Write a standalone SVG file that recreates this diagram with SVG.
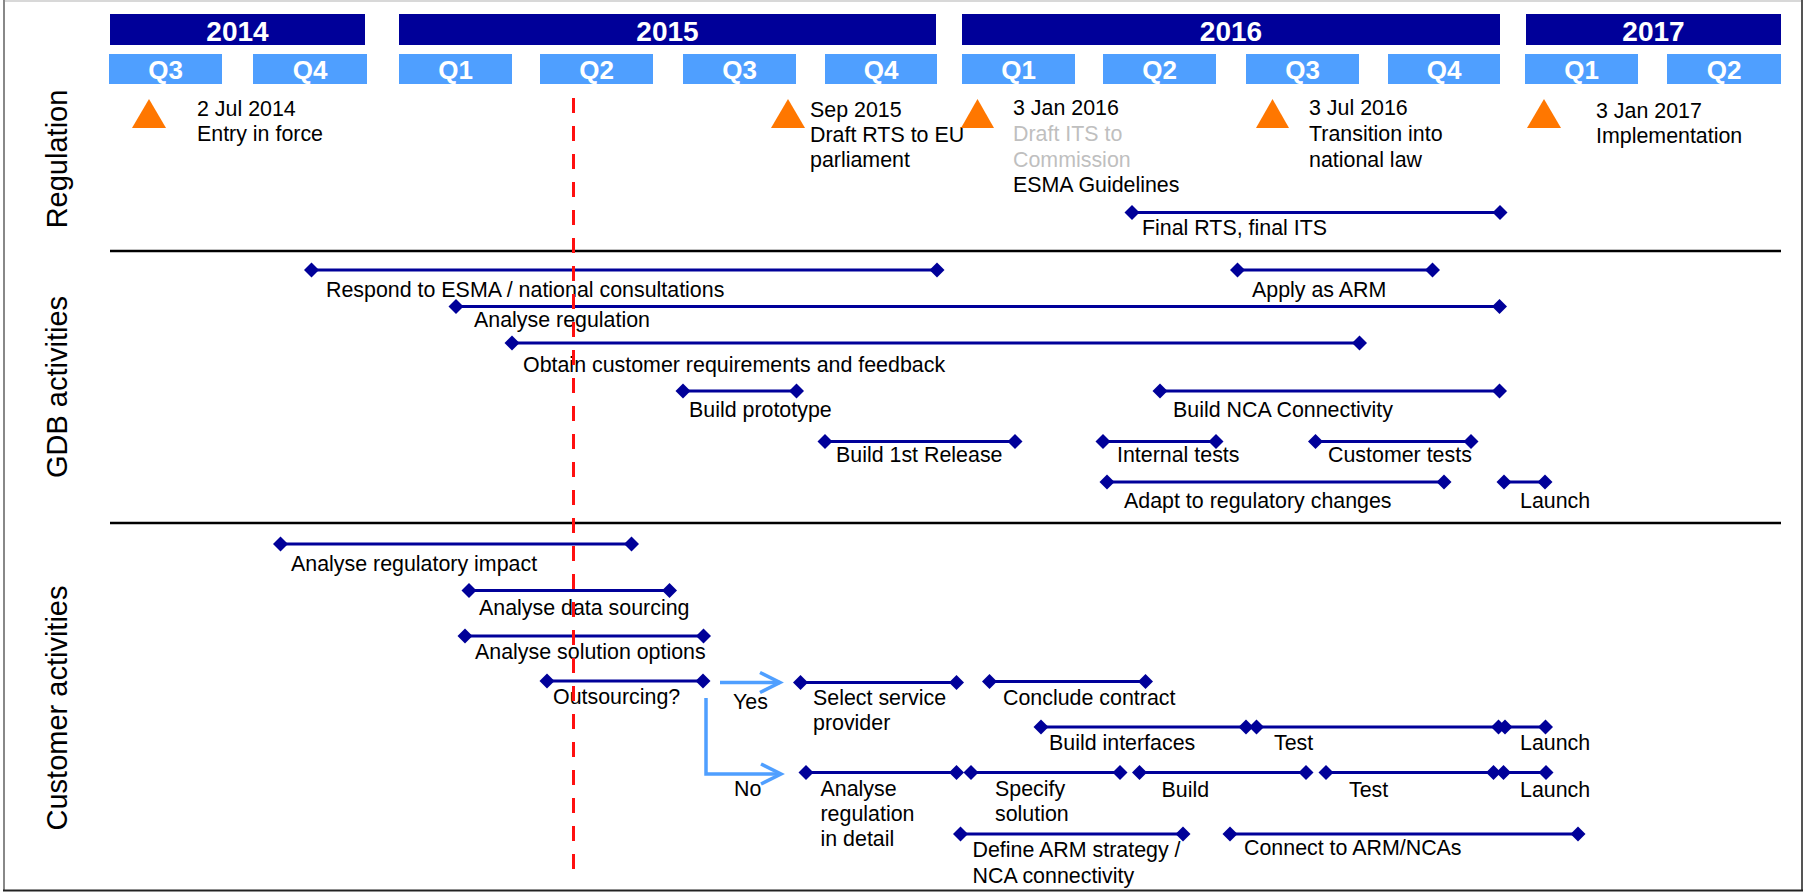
<svg xmlns="http://www.w3.org/2000/svg" width="1804" height="892" viewBox="0 0 1804 892">
<style>
  text { font-family: "Liberation Sans", Arial, sans-serif; }
  .yr { fill: #000099; }
  .q { fill: #4F9FFF; }
  .yt { font-size: 28px; font-weight: bold; fill: #fff; text-anchor: middle; }
  .qt { font-size: 26px; font-weight: bold; fill: #fff; text-anchor: middle; }
  .lbl { font-size: 21.4px; fill: #000; }
  .gray { fill: #BFBFBF; }
  .side { font-size: 29px; fill: #000; text-anchor: middle; }
  .tri { fill: #FF7700; }
  .bar { stroke: #000099; stroke-width: 3; marker-start: url(#dia); marker-end: url(#dia); }
  .sep { stroke: #000; stroke-width: 2.5; }
  .arr { stroke: #4F9FFF; stroke-width: 3.5; fill: none; marker-end: url(#chev); }
</style>
<defs>
  <marker id="dia" viewBox="-8 -8 16 16" markerWidth="16" markerHeight="16" refX="0" refY="0" markerUnits="userSpaceOnUse" orient="0">
    <path d="M0,-7.5 L7.5,0 L0,7.5 L-7.5,0 Z" fill="#000099"/>
  </marker>
  <marker id="chev" viewBox="-24 -14 28 28" markerWidth="28" markerHeight="28" refX="0" refY="0" markerUnits="userSpaceOnUse" orient="auto">
    <path d="M-20,-10 L0,0 L-20,10" fill="none" stroke="#4F9FFF" stroke-width="3.5"/>
  </marker>
</defs>
<rect x="0" y="0" width="1804" height="892" fill="#fff"/>
<g id="frame">
  <line x1="3" y1="1" x2="1802" y2="1" stroke="#d8d8d8" stroke-width="2"/>
  <line x1="4" y1="0" x2="4" y2="891" stroke="#888" stroke-width="2"/>
  <line x1="1802" y1="0" x2="1802" y2="891" stroke="#555" stroke-width="2"/>
  <line x1="3" y1="890.5" x2="1803" y2="890.5" stroke="#222" stroke-width="2"/>
</g>
<g id="timeline">
  <rect class="yr" x="110" y="14" width="255" height="31"/>
  <text class="yt" x="237.5" y="41">2014</text>
  <rect class="yr" x="399" y="14" width="537" height="31"/>
  <text class="yt" x="667.5" y="41">2015</text>
  <rect class="yr" x="962" y="14" width="538" height="31"/>
  <text class="yt" x="1231" y="41">2016</text>
  <rect class="yr" x="1526" y="14" width="255" height="31"/>
  <text class="yt" x="1653.5" y="41">2017</text>
  <rect class="q" x="109" y="54" width="113" height="30"/><text class="qt" x="165.5" y="79">Q3</text>
  <rect class="q" x="253" y="54" width="114" height="30"/><text class="qt" x="310" y="79">Q4</text>
  <rect class="q" x="399" y="54" width="113" height="30"/><text class="qt" x="455.5" y="79">Q1</text>
  <rect class="q" x="540" y="54" width="113" height="30"/><text class="qt" x="596.5" y="79">Q2</text>
  <rect class="q" x="683" y="54" width="113" height="30"/><text class="qt" x="739.5" y="79">Q3</text>
  <rect class="q" x="825" y="54" width="112" height="30"/><text class="qt" x="881" y="79">Q4</text>
  <rect class="q" x="962" y="54" width="113" height="30"/><text class="qt" x="1018.5" y="79">Q1</text>
  <rect class="q" x="1103" y="54" width="113" height="30"/><text class="qt" x="1159.5" y="79">Q2</text>
  <rect class="q" x="1246" y="54" width="113" height="30"/><text class="qt" x="1302.5" y="79">Q3</text>
  <rect class="q" x="1388" y="54" width="112" height="30"/><text class="qt" x="1444" y="79">Q4</text>
  <rect class="q" x="1525" y="54" width="113" height="30"/><text class="qt" x="1581.5" y="79">Q1</text>
  <rect class="q" x="1667" y="54" width="114" height="30"/><text class="qt" x="1724" y="79">Q2</text>
</g>
<g id="sections">
  <text class="side" transform="translate(67,159) rotate(-90)">Regulation</text>
  <text class="side" transform="translate(67,387) rotate(-90)">GDB activities</text>
  <text class="side" transform="translate(67,708) rotate(-90)">Customer activities</text>
  <line class="sep" x1="110" y1="251" x2="1781" y2="251"/>
  <line class="sep" x1="110" y1="523" x2="1781" y2="523"/>
</g>
<g id="milestone-2014">
  <polygon class="tri" points="149,99 132,128 166,128"/>
  <text class="lbl" x="197" y="116">2 Jul 2014</text>
  <text class="lbl" x="197" y="141">Entry in force</text>
</g>
<g id="milestone-sep2015">
  <polygon class="tri" points="788,99 771,128 805,128"/>
  <text class="lbl" x="810" y="117">Sep 2015</text>
  <text class="lbl" x="810" y="142">Draft RTS to EU</text>
  <text class="lbl" x="810" y="167">parliament</text>
</g>
<g id="milestone-jan2016">
  <polygon class="tri" points="977.5,99 961,128 994,128"/>
  <text class="lbl" x="1013" y="115">3 Jan 2016</text>
  <text class="lbl gray" x="1013" y="141">Draft ITS to</text>
  <text class="lbl gray" x="1013" y="166.5">Commission</text>
  <text class="lbl" x="1013" y="192">ESMA Guidelines</text>
</g>
<g id="milestone-jul2016">
  <polygon class="tri" points="1272.5,99 1256,128 1289,128"/>
  <text class="lbl" x="1309" y="115">3 Jul 2016</text>
  <text class="lbl" x="1309" y="141">Transition into</text>
  <text class="lbl" x="1309" y="166.5">national law</text>
</g>
<g id="milestone-jan2017">
  <polygon class="tri" points="1544,99 1527,128 1561,128"/>
  <text class="lbl" x="1596" y="118">3 Jan 2017</text>
  <text class="lbl" x="1596" y="143">Implementation</text>
</g>
<g id="final-rts">
  <line class="bar" x1="1132" y1="212.5" x2="1500" y2="212.5"/>
  <text class="lbl" x="1142" y="235">Final RTS, final ITS</text>
</g>
<g id="gdb-respond">
  <line class="bar" x1="311.5" y1="270" x2="937" y2="270"/>
  <text class="lbl" x="326" y="297">Respond to ESMA / national consultations</text>
</g>
<g id="gdb-apply-arm">
  <line class="bar" x1="1237.5" y1="270" x2="1432.5" y2="270"/>
  <text class="lbl" x="1252" y="297">Apply as ARM</text>
</g>
<g id="gdb-analyse-regulation">
  <line class="bar" x1="456" y1="306.5" x2="1499.5" y2="306.5"/>
  <text class="lbl" x="474" y="327">Analyse regulation</text>
</g>
<g id="gdb-obtain">
  <line class="bar" x1="512" y1="343" x2="1359.5" y2="343"/>
  <text class="lbl" x="523" y="372">Obtain customer requirements and feedback</text>
</g>
<g id="gdb-prototype">
  <line class="bar" x1="683" y1="391" x2="796.5" y2="391"/>
  <text class="lbl" x="689" y="417">Build prototype</text>
</g>
<g id="gdb-nca">
  <line class="bar" x1="1160" y1="391" x2="1499.5" y2="391"/>
  <text class="lbl" x="1173" y="417">Build NCA Connectivity</text>
</g>
<g id="gdb-release">
  <line class="bar" x1="825" y1="441.5" x2="1015" y2="441.5"/>
  <text class="lbl" x="836" y="462">Build 1st Release</text>
</g>
<g id="gdb-internal-tests">
  <line class="bar" x1="1103" y1="441.5" x2="1216" y2="441.5"/>
  <text class="lbl" x="1117" y="462">Internal tests</text>
</g>
<g id="gdb-customer-tests">
  <line class="bar" x1="1315.5" y1="441.5" x2="1471" y2="441.5"/>
  <text class="lbl" x="1328" y="462">Customer tests</text>
</g>
<g id="gdb-adapt">
  <line class="bar" x1="1107" y1="482" x2="1444" y2="482"/>
  <text class="lbl" x="1124" y="508">Adapt to regulatory changes</text>
</g>
<g id="gdb-launch">
  <line class="bar" x1="1504" y1="482" x2="1545" y2="482"/>
  <text class="lbl" x="1520" y="508">Launch</text>
</g>
<g id="cust-impact">
  <line class="bar" x1="280.5" y1="544" x2="631.5" y2="544"/>
  <text class="lbl" x="291" y="571">Analyse regulatory impact</text>
</g>
<g id="cust-data">
  <line class="bar" x1="469" y1="590.5" x2="669.5" y2="590.5"/>
  <text class="lbl" x="479" y="615">Analyse data sourcing</text>
</g>
<g id="cust-options">
  <line class="bar" x1="465" y1="636" x2="703.5" y2="636"/>
  <text class="lbl" x="475" y="659">Analyse solution options</text>
</g>
<g id="cust-outsourcing">
  <line class="bar" x1="547" y1="681" x2="703" y2="681"/>
  <text class="lbl" x="553" y="704">Outsourcing?</text>
</g>
<g id="cust-select">
  <line class="bar" x1="800.5" y1="682.5" x2="956.5" y2="682.5"/>
  <text class="lbl" x="813" y="705">Select service</text>
  <text class="lbl" x="813" y="730">provider</text>
</g>
<g id="cust-contract">
  <line class="bar" x1="989.5" y1="681.5" x2="1145.5" y2="681.5"/>
  <text class="lbl" x="1003" y="705">Conclude contract</text>
</g>
<g id="cust-interfaces">
  <line class="bar" x1="1041" y1="727" x2="1246" y2="727"/>
  <text class="lbl" x="1049" y="750">Build interfaces</text>
</g>
<g id="cust-yes-test">
  <line class="bar" x1="1256.5" y1="727" x2="1498.5" y2="727"/>
  <text class="lbl" x="1274" y="750">Test</text>
</g>
<g id="cust-yes-launch">
  <line class="bar" x1="1505" y1="727" x2="1545.5" y2="727"/>
  <text class="lbl" x="1520" y="750">Launch</text>
</g>
<g id="cust-detail">
  <line class="bar" x1="806" y1="772.5" x2="956.5" y2="772.5"/>
  <text class="lbl" x="820.5" y="796">Analyse</text>
  <text class="lbl" x="820.5" y="821">regulation</text>
  <text class="lbl" x="820.5" y="846">in detail</text>
</g>
<g id="cust-specify">
  <line class="bar" x1="971" y1="772.5" x2="1120" y2="772.5"/>
  <text class="lbl" x="995" y="796">Specify</text>
  <text class="lbl" x="995" y="821">solution</text>
</g>
<g id="cust-build">
  <line class="bar" x1="1139.5" y1="772.5" x2="1306" y2="772.5"/>
  <text class="lbl" x="1161.5" y="797">Build</text>
</g>
<g id="cust-no-test">
  <line class="bar" x1="1326" y1="772.5" x2="1493.5" y2="772.5"/>
  <text class="lbl" x="1349" y="797">Test</text>
</g>
<g id="cust-no-launch">
  <line class="bar" x1="1503.5" y1="772.5" x2="1546" y2="772.5"/>
  <text class="lbl" x="1520" y="797">Launch</text>
</g>
<g id="cust-arm-strategy">
  <line class="bar" x1="960.5" y1="834" x2="1183" y2="834"/>
  <text class="lbl" x="972.5" y="857">Define ARM strategy /</text>
  <text class="lbl" x="972.5" y="883">NCA connectivity</text>
</g>
<g id="cust-connect">
  <line class="bar" x1="1230" y1="834" x2="1578" y2="834"/>
  <text class="lbl" x="1244" y="855">Connect to ARM/NCAs</text>
</g>
<g id="connectors">
  <line class="arr" x1="720" y1="682.5" x2="780" y2="682.5"/>
  <text class="lbl" x="733" y="709">Yes</text>
  <path class="arr" d="M706,698 V774 H781"/>
  <text class="lbl" x="734" y="796">No</text>
</g>
<g id="today">
  <line x1="573.5" y1="98" x2="573.5" y2="871" stroke="#FF1010" stroke-width="3" stroke-dasharray="15,13"/>
</g>
</svg>
